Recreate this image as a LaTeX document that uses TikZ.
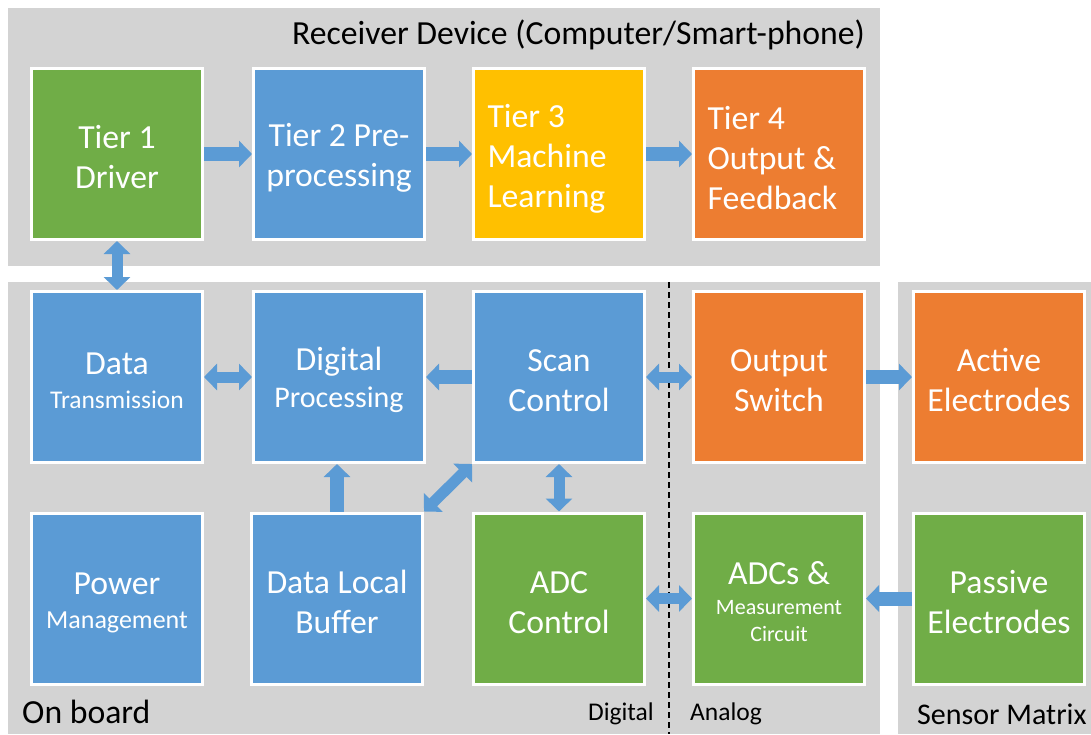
\documentclass[tikz,border=0pt]{standalone}
\usepackage{fontspec}
\setmainfont{Carlito}
\usetikzlibrary{arrows.meta}
\definecolor{pgray}{HTML}{D3D3D3}
\definecolor{cgreen}{HTML}{70AD47}
\definecolor{cblue}{HTML}{5B9BD5}
\definecolor{cyellow}{HTML}{FFC000}
\definecolor{corange}{HTML}{ED7D31}
\newcommand{\bigfont}{\fontsize{33.7}{40}\selectfont}
\tikzset{
  box/.style={draw=white, line width=3pt, minimum width=171pt, minimum height=171pt,
    text=white, text width=165pt, align=flush center, font=\bigfont, inner sep=0pt,
    execute at begin node={\rule{0pt}{30pt}}},
  lbox/.style={box, text width=143pt, align=flush left,
    execute at begin node={\rule{0pt}{32pt}}},
  sarrow/.style={draw=cblue, line width=14pt, -{Triangle[width=26pt,length=13pt]}},
  darrow/.style={draw=cblue, line width=11pt,
    {Triangle[width=26pt,length=13pt]}-{Triangle[width=26pt,length=13pt]}},
  panel/.style={fill=pgray, draw=none},
  lbl/.style={inner sep=0pt, text=black},
  divider/.style={draw=black, line width=1.2pt, dash pattern=on 6pt off 4pt},
}
\begin{document}
\begin{tikzpicture}[x=1pt, y=-1pt]
\useasboundingbox (0,0) rectangle (1091,734);
\fill[white] (0,0) rectangle (1091,734);
% panels
\fill[panel] (8,8) rectangle (880,266);
\fill[panel] (8,282) rectangle (880,734);
\fill[panel] (898,282) rectangle (1091,734);
\draw[divider] (669,282) -- (669,734);
% labels
\node[lbl, anchor=base east, font=\bigfont] (rdev) at (865,44) {Receiver Device (Computer/Smart-phone)};
\node[lbl, anchor=base west, font=\bigfont] (onb) at (22,723) {On board};
\node[lbl, anchor=base east, font=\fontsize{25.5}{30}\selectfont] (dig) at (654,720) {Digital};
\node[lbl, anchor=base west, font=\fontsize{25.5}{30}\selectfont] (ana) at (690,720) {Analog};
\node[lbl, anchor=base west, font=\fontsize{30}{36}\selectfont] (smx) at (917,724) {Sensor Matrix};
% row 1
\node[box, fill=cgreen] (t1) at (117,154) {Tier 1\\Driver};
\node[box, fill=cblue] (t2) at (339,154) {Tier 2 Pre-\\processing};
\node[lbox, fill=cyellow] (t3) at (559,154) {Tier 3\\Machine\\Learning};
\node[lbox, fill=corange] (t4) at (779,154) {Tier 4\\Output \&\\Feedback};
% row 2
\node[box, fill=cblue] (dt) at (117,377) {Data\\[-6pt]{\fontsize{25.5}{30}\selectfont Transmission}};
\node[box, fill=cblue] (dp) at (339,377) {Digital\\[-3pt]{\fontsize{30}{37}\selectfont Processing}};
\node[box, fill=cblue] (sc) at (559,377) {Scan\\Control};
\node[box, fill=corange] (os) at (779,377) {Output\\Switch};
\node[box, fill=corange] (ae) at (999,377) {Active\\Electrodes};
% row 3
\node[box, fill=cblue] (pm) at (117,598.5) {Power\\[-6pt]{\fontsize{26}{30}\selectfont Management}};
\node[box, fill=cblue] (dlb) at (337,598.5) {Data Local\\Buffer};
\node[box, fill=cgreen] (adc) at (559,598.5) {ADC\\Control};
\node[box, fill=cgreen] (adcs) at (779,598.5) {ADCs \&\\[-10pt]{\fontsize{22}{26}\selectfont Measurement}\\[-13pt]{\fontsize{22}{26}\selectfont Circuit}};
\node[box, fill=cgreen] (pe) at (999,598.5) {Passive\\Electrodes};
% connectors
\draw[sarrow] (t1) -- (t2);
\draw[sarrow] (t2) -- (t3);
\draw[sarrow] (t3) -- (t4);
\draw[darrow] (t1) -- (dt);
\draw[darrow] (dt) -- (dp);
\draw[sarrow] (sc) -- (dp);
\draw[sarrow] (dlb.north) -- (dlb.north |- dp.south);
\draw[darrow] (dlb.north east) -- (sc.south west);
\draw[darrow] (sc) -- (adc);
\draw[darrow] (sc) -- (os);
\draw[darrow] (adc) -- (adcs);
\draw[sarrow] (os) -- (ae);
\draw[sarrow] (pe) -- (adcs);
\end{tikzpicture}
\end{document}
